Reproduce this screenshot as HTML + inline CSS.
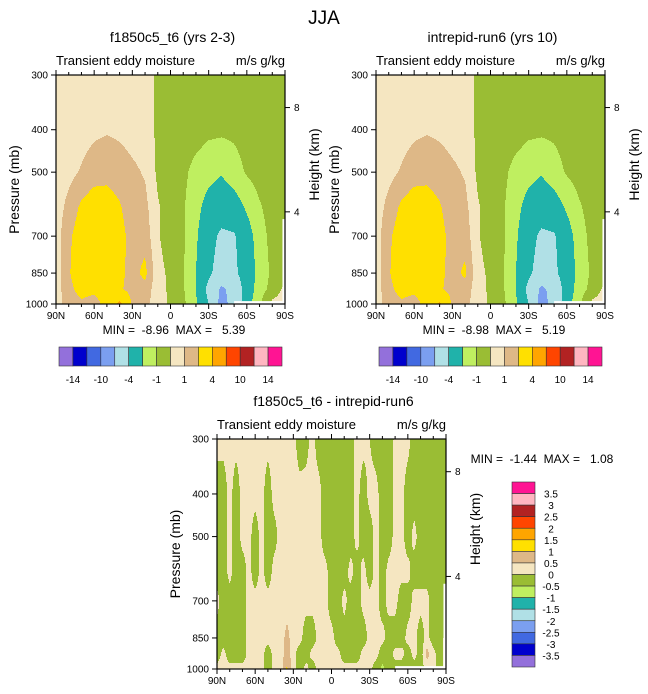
<!DOCTYPE html>
<html><head><meta charset="utf-8">
<style>
html,body{margin:0;padding:0;background:#fff;}
svg{display:block;font-family:"Liberation Sans",Arial,sans-serif;}
</style></head>
<body>
<svg id="chart" width="648" height="694" viewBox="0 0 648 694" xmlns="http://www.w3.org/2000/svg">
<text x="324" y="24" font-size="19" text-anchor="middle">JJA</text>
</svg>
<script>
// ---------- data ----------
const presLevels = [300,400,500,600,700,850,925,1000];
const latLabels = ["90N","60N","30N","0","30S","60S","90S"];
const pTickLabels = [300,400,500,700,850,1000];
const hTickValues = [8,4];
const hTickPres = [356,616]; // pressure where height ticks fall
const topLevels = [-14,-12,-10,-7,-4,-2,-1,0,1,2,4,7,10,12,14];
const topBarLabels = ["-14","-10","-4","-1","1","4","10","14"];
const diffLevels = [-3.5,-3,-2.5,-2,-1.5,-1,-0.5,0,0.5,1,1.5,2,2.5,3,3.5];
const diffBarLabels = ["3.5","3","2.5","2","1.5","1","0.5","0","-0.5","-1","-1.5","-2","-2.5","-3","-3.5"];
const colors = ["#9370db","#0000cd","#4169e1","#7b9ff0","#b0e0e6","#20b2aa","#bfef60","#9abd34","#f5e6c1","#deb887","#ffe000","#ffa500","#ff4500","#b22222","#ffb6c1","#ff1493"];

// case 1: 19 lats (90N..90S step 10) x 8 pressure levels
const case1 = [
[0.5,0.5,0.5,0.5,0.5,0.5,0.5,0.5,-0.2,-0.5,-0.5,-0.5,-0.5,-0.5,-0.5,-0.5,-0.5,-0.5,-0.5],
[0.5,0.5,0.6,0.8,0.9,0.8,0.6,0.5,-0.2,-0.5,-0.5,-0.6,-0.8,-0.8,-0.8,-0.6,-0.5,-0.5,-0.5],
[0.5,0.7,1.1,1.5,1.7,1.5,1.2,0.9,-0.2,-0.5,-0.8,-1.3,-1.6,-1.9,-1.4,-0.9,-0.6,-0.5,-0.5],
[0.5,1.3,2.2,2.7,2.5,2.1,1.4,1.3,0.1,-0.5,-0.9,-1.6,-2.5,-2.9,-2.6,-1.8,-1.1,-0.6,-0.5],
[0.5,1.8,2.6,3.0,2.8,2.4,1.6,1.6,0.1,-0.5,-0.9,-1.8,-3.2,-4.4,-4.2,-2.6,-1.4,-0.7,-0.5],
[0.5,1.9,2.7,3.0,2.8,2.3,1.6,2.3,0.3,-0.2,-0.9,-2.0,-3.6,-5.0,-4.5,-2.8,-1.6,-0.8,-0.5],
[0.5,1.7,2.4,2.3,2.5,2.2,1.5,1.6,0.4,-0.2,-0.9,-2.0,-4.6,-7.5,-6.0,-2.8,-1.4,-0.7,0.3],
[0.5,1.5,1.8,1.5,2.5,4.5,1.8,1.2,0.6,-0.2,-0.8,-1.8,-4.0,-8.0,-6.0,-2.5,-1.2,0.3,0.5]
];
const case2 = [
[0.5,0.5,0.5,0.5,0.5,0.5,0.5,0.5,-0.2,-0.5,-0.5,-0.5,-0.5,-0.5,-0.5,-0.5,-0.5,-0.5,-0.5],
[0.5,0.5,0.6,0.8,0.9,0.8,0.6,0.5,-0.2,-0.5,-0.5,-0.6,-0.8,-0.8,-0.8,-0.6,-0.5,-0.5,-0.5],
[0.5,0.7,1.1,1.5,1.7,1.5,1.2,0.9,-0.2,-0.5,-0.8,-1.3,-1.6,-1.9,-1.4,-0.9,-0.6,-0.5,-0.5],
[0.5,1.3,2.2,2.7,2.5,2.1,1.4,1.3,0.1,-0.5,-0.9,-1.6,-2.5,-2.9,-2.6,-1.8,-1.1,-0.6,-0.5],
[0.5,1.8,2.6,3.0,2.8,2.4,1.6,1.6,0.1,-0.5,-0.9,-1.8,-3.2,-4.4,-4.2,-2.6,-1.4,-0.7,-0.5],
[0.5,1.9,2.7,3.0,2.8,2.3,1.6,2.2,0.3,-0.2,-0.9,-2.0,-3.6,-5.0,-4.5,-2.8,-1.6,-0.8,-0.5],
[0.5,1.7,2.4,2.3,2.5,2.2,1.5,1.6,0.4,-0.2,-0.9,-2.0,-4.6,-7.6,-6.0,-2.8,-1.4,-0.7,0.3],
[0.5,1.5,1.8,1.5,2.5,4.3,1.8,1.2,0.6,-0.2,-0.8,-1.8,-4.0,-8.1,-6.0,-2.5,-1.2,0.3,0.5]
];
// difference: 37 lats (90N..90S step 5) x 8 pressure levels
const diffVals = [
[0.2,0.2,0.2,0.2,0.2,0.2,0.2,0.2,0.2,0.2,0.2,0.2,0.2,-0.3,-0.2,0.2,-0.3,-0.3,-0.3,-0.3,-0.3,-0.3,0.2,0.2,0.0,-0.3,-0.3,-0.3,0.1,0.2,0.2,-0.3,-0.3,-0.3,-0.3,-0.3,-0.3],
[-0.3,-0.3,0.2,-0.3,0.2,0.2,0.2,0.2,-0.3,0.2,0.2,0.2,0.2,0.2,0.2,0.2,0.2,-0.3,-0.3,-0.3,-0.3,-0.3,0.2,-0.3,0.2,0.2,-0.3,-0.3,0.2,0.2,-0.3,-0.3,-0.3,-0.3,-0.3,-0.3,-0.3],
[-0.3,-0.3,0.2,-0.3,0.2,0.2,-0.3,0.2,-0.3,-0.2,0.2,0.2,0.2,0.2,0.2,0.2,0.2,-0.3,-0.3,-0.3,-0.3,-0.3,0.2,-0.3,-0.3,0.2,-0.3,-0.3,0.2,0.2,-0.3,0.2,-0.3,-0.3,-0.3,-0.3,-0.3],
[-0.3,-0.3,0.2,-0.3,-0.3,0.2,-0.3,0.2,-0.3,0.2,0.2,0.2,0.2,0.2,0.2,0.2,0.2,0.2,-0.3,-0.3,-0.3,0.2,-0.3,0.2,-0.3,0.2,-0.3,0.2,0.2,0.2,0.2,-0.3,-0.3,-0.3,-0.3,-0.3,-0.3],
[0.2,-0.3,-0.3,-0.3,-0.3,0.2,0.2,0.2,0.2,0.2,0.2,0.2,0.2,0.2,0.2,0.2,0.2,0.2,-0.3,-0.3,0.2,-0.3,-0.3,0.2,0.2,0.2,-0.3,0.2,0.2,-0.3,-0.3,0.2,0.2,0.2,-0.3,-0.3,-0.3],
[-0.3,-0.3,-0.3,-0.3,-0.3,0.2,0.2,0.2,0.2,0.2,0.2,0.7,0.2,0.2,-0.3,-0.3,0.2,0.2,0.2,-0.3,-0.3,-0.3,-0.3,-0.3,0.2,0.2,0.2,-0.3,-0.3,-0.3,0.2,0.2,-0.3,0.2,-0.3,-0.3,0.2],
[-0.3,0.2,-0.3,-0.3,-0.3,0.2,0.2,0.2,-0.3,0.2,0.2,0.8,0.2,-0.3,-0.3,0.2,0.2,0.2,0.2,0.2,-0.3,-0.3,-0.3,0.2,0.2,0.2,-0.3,-0.3,0.2,0.2,-0.3,0.2,-0.3,0.7,0.2,-0.3,0.2],
[0.2,0.2,0.2,0.2,0.2,0.2,0.2,0.2,-0.3,0.2,0.2,1.1,0.2,-0.3,0.2,-0.3,0.2,0.2,0.2,0.2,0.2,0.2,0.2,0.2,0.2,-0.3,-0.6,-0.3,-0.3,-0.3,-0.3,-0.3,-0.3,0.2,0.2,-0.3,0.2]
];

// ---------- helpers ----------
const svg = document.getElementById('chart');
const NS = "http://www.w3.org/2000/svg";
function mk(tag, attrs, parent){
  const e = document.createElementNS(NS, tag);
  for (const k in attrs) e.setAttribute(k, attrs[k]);
  (parent||svg).appendChild(e);
  return e;
}
function txt(s, attrs, parent){ const t = mk('text', attrs, parent); t.textContent = s; return t; }
const LOGR = Math.log(1000/300);
function makeY(y0,h){ return p => y0 + h*Math.log(p/300)/LOGR; }
function makeX(x0,w){ return lat => x0 + w*(90-lat)/180; }
function levelIndex(v, levels){ let i=0; while(i<levels.length && v>=levels[i]) i++; return i; }

function drawField(g, x0,y0,w,h, vals, levels, cols){
  const nr = vals.length, nc = vals[0].length;
  const logP = presLevels.map(p=>Math.log(p));
  for (let py=0; py<h; py++){
    const lp = Math.log(300) + (py+0.5)/h*LOGR;
    let r=0; while(r<nr-2 && lp>logP[r+1]) r++;
    let fy = (lp-logP[r])/(logP[r+1]-logP[r]); fy = Math.max(0,Math.min(1,fy));
    let runStart=0, runCol=-1;
    for (let px=0; px<=w; px++){
      let ci=-2;
      if (px<w){
        const fc = (px+0.5)/w*(nc-1);
        let c = Math.min(nc-2, Math.floor(fc)); const fx = fc-c;
        const v = (1-fy)*((1-fx)*vals[r][c]+fx*vals[r][c+1]) + fy*((1-fx)*vals[r+1][c]+fx*vals[r+1][c+1]);
        ci = levelIndex(v, levels);
      }
      if (ci!==runCol){
        if (runCol>=0){
          const rc = mk('rect',{x:x0+runStart,y:y0+py,width:px-runStart,height:1.05,fill:cols[runCol]},g);
          
          
        }
        runStart=px; runCol=ci;
      }
    }
  }
}

function drawPanel(o){
  const {x0,y0,w,h} = o;
  const X = makeX(x0,w), Y = makeY(y0,h);
  const g = mk('g',{});  
  const t = txt(o.title,{x:x0+w/2+2,y:y0-33,'font-size':14,'text-anchor':'middle'},g);
   
  const l = txt('Transient eddy moisture',{x:x0,y:y0-10,'font-size':13},g);
   
  const r = txt('m/s g/kg',{x:x0+w,y:y0-10,'font-size':13,'text-anchor':'end'},g);
   
  const fg = mk('g',{},g);  
  drawField(fg,x0,y0,w,h,o.vals,o.levels,o.cols);
  mk('rect',{x:X(-50),y:Y(985),width:X(-88)-X(-50),height:y0+h-Y(985),fill:'#fff'},g);
  mk('rect',{x:X(-88),y:Y(640),width:X(-90)-X(-88),height:y0+h-Y(640),fill:'#fff'},g);
  const fr = mk('rect',{x:x0,y:y0,width:w,height:h,fill:'none',stroke:'#000','stroke-width':1.2},g);
   
  for (let lat=90; lat>=-90; lat-=10){
    const major = lat%30===0, len = major?5:3, x = X(lat);
    mk('line',{x1:x,x2:x,y1:y0,y2:y0-len,stroke:'#000','stroke-width':1},g);
    mk('line',{x1:x,x2:x,y1:y0+h,y2:y0+h+len,stroke:'#000','stroke-width':1},g);
  }
  latLabels.forEach((s,i)=>{
    const tl = txt(s,{x:X(90-30*i),y:y0+h+15,'font-size':10,'text-anchor':'middle'},g);
     
  });
  pTickLabels.forEach(p=>{
    const y = Y(p);
    mk('line',{x1:x0,x2:x0-5,y1:y,y2:y,stroke:'#000','stroke-width':1},g);
    const tl = txt(String(p),{x:x0-8,y:y+3.5,'font-size':10,'text-anchor':'end'},g);
     
  });
  hTickValues.forEach((hv,i)=>{
    const y = Y(hTickPres[i]);
    mk('line',{x1:x0+w,x2:x0+w+5,y1:y,y2:y,stroke:'#000','stroke-width':1},g);
    const tl = txt(String(hv),{x:x0+w+9,y:y+3.5,'font-size':10},g);
     
  });
  const yl = txt('Pressure (mb)',{x:0,y:0,'font-size':14,'text-anchor':'middle',transform:`translate(${x0-37},${y0+h/2}) rotate(-90)`},g);
   
  const hl = txt('Height (km)',{x:0,y:0,'font-size':14,'text-anchor':'middle',transform:`translate(${x0+w+34},${y0+h/2-25}) rotate(-90)`},g);
   
  const mm = txt(o.minmax.replace(/ /g,'\u00a0'),{x:o.mmx,y:o.mmy,'font-size':12,'text-anchor':'middle'},g);
   
  return g;
}

function hBar(x0,y0,w,h){
  const g = mk('g',{});  
  const bw = w/colors.length;
  colors.forEach((c,i)=>{
    const b = mk('rect',{x:x0+i*bw,y:y0,width:bw,height:h,fill:c,stroke:'#333','stroke-width':0.6},g);
     
  });
  topBarLabels.forEach((s,i)=>{
    const t = txt(s,{x:x0+(2*i+1)*bw,y:y0+h+17,'font-size':10,'text-anchor':'middle'},g);
     
  });
}
function vBar(x0,y0,w,h){
  const g = mk('g',{});  
  const bh = h/colors.length;
  colors.slice().reverse().forEach((c,i)=>{
    const b = mk('rect',{x:x0,y:y0+i*bh,width:w,height:bh,fill:c,stroke:'#333','stroke-width':0.6},g);
     
  });
  diffBarLabels.forEach((s,i)=>{
    const t = txt(s,{x:x0+w+16,y:y0+(i+1)*bh+4,'font-size':10,'text-anchor':'middle'},g);
     
  });
}

drawPanel({name:'panel-case1',x0:56,y0:75,w:229,h:229,vals:case1,levels:topLevels,cols:colors,
  title:'f1850c5_t6 (yrs 2-3)',minmax:'MIN =  -8.96  MAX =   5.39',mmx:174,mmy:334});
hBar(59,347,223,19);
drawPanel({name:'panel-case2',x0:376,y0:75,w:229,h:229,vals:case2,levels:topLevels,cols:colors,
  title:'intrepid-run6 (yrs 10)',minmax:'MIN =  -8.98  MAX =   5.19',mmx:494,mmy:334});
hBar(379,347,223,19);
drawPanel({name:'panel-difference',x0:217,y0:439,w:229,h:230,vals:diffVals,levels:diffLevels,cols:colors,
  title:'f1850c5_t6 - intrepid-run6',minmax:'MIN =  -1.44  MAX =   1.08',mmx:542,mmy:463});
vBar(512,482,23,185);
</script>
</body></html>
